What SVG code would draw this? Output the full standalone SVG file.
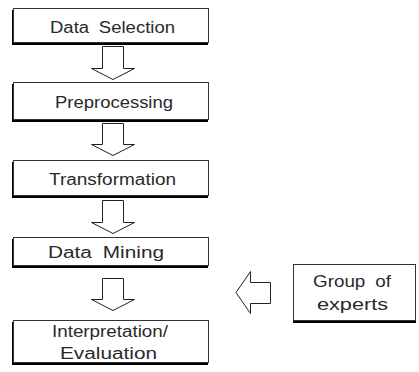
<svg xmlns="http://www.w3.org/2000/svg" width="419" height="372" viewBox="0 0 419 372">
<style>
.sh{fill:#000}
.bx{fill:#fff;stroke:#333;stroke-width:1}
.ar{fill:#fff;stroke:#222;stroke-width:1;stroke-linejoin:miter}
.t{font-family:"Liberation Sans",Arial,sans-serif;font-size:16px;fill:#2a2a2a;text-anchor:middle;word-spacing:4px}
</style>
<rect width="419" height="372" fill="#fff"/>
<g id="connectors">
<polygon class="ar" points="102.5,46.5 123.5,46.5 123.5,68.5 134.5,68.5 113,79.5 91.5,68.5 102.5,68.5"/>
<polygon class="ar" points="102.5,123.5 123.5,123.5 123.5,144.5 134.5,144.5 113,155.5 91.5,144.5 102.5,144.5"/>
<polygon class="ar" points="102.5,200.5 123.5,200.5 123.5,222.5 134.5,222.5 113,233.5 91.5,222.5 102.5,222.5"/>
<polygon class="ar" points="102.5,278.5 123.5,278.5 123.5,299.5 134.5,299.5 113,310.5 91.5,299.5 102.5,299.5"/>
<polygon class="ar" points="270.5,282.5 270.5,303.5 250.5,303.5 250.5,313.5 236,292.5 250.5,271.5 250.5,282.5"/>
</g>
<g id="n1">
<rect class="sh" x="12" y="10" width="196" height="35"/>
<rect class="bx" x="13.5" y="8.5" width="195" height="34"/>
<text class="t" x="112.5" y="33" textLength="125" lengthAdjust="spacingAndGlyphs">Data Selection</text>
</g>
<g id="n2">
<rect class="sh" x="12" y="84" width="196" height="38"/>
<rect class="bx" x="13.5" y="82.5" width="195" height="37"/>
<text class="t" x="114" y="108" textLength="118" lengthAdjust="spacingAndGlyphs">Preprocessing</text>
</g>
<g id="n3">
<rect class="sh" x="12" y="162" width="196" height="36"/>
<rect class="bx" x="13.5" y="160.5" width="195" height="35"/>
<text class="t" x="112.5" y="185" textLength="127" lengthAdjust="spacingAndGlyphs">Transformation</text>
</g>
<g id="n4">
<rect class="sh" x="12" y="239" width="196" height="29"/>
<rect class="bx" x="13.5" y="237.5" width="195" height="28"/>
<text class="t" x="106" y="258" textLength="116" lengthAdjust="spacingAndGlyphs">Data Mining</text>
</g>
<g id="n5">
<rect class="sh" x="12" y="322" width="196" height="43"/>
<rect class="bx" x="13.5" y="320.5" width="195" height="42"/>
<text class="t" x="110" y="337" textLength="116" lengthAdjust="spacingAndGlyphs">Interpretation/</text>
<text class="t" x="108.5" y="359" textLength="97" lengthAdjust="spacingAndGlyphs">Evaluation</text>
</g>
<g id="n6">
<rect class="sh" x="293" y="266" width="123" height="57"/>
<rect class="bx" x="293.5" y="264.5" width="122" height="56"/>
<text class="t" x="352" y="287" textLength="78" lengthAdjust="spacingAndGlyphs">Group of</text>
<text class="t" x="352.5" y="310" textLength="71" lengthAdjust="spacingAndGlyphs">experts</text>
</g>
</svg>
